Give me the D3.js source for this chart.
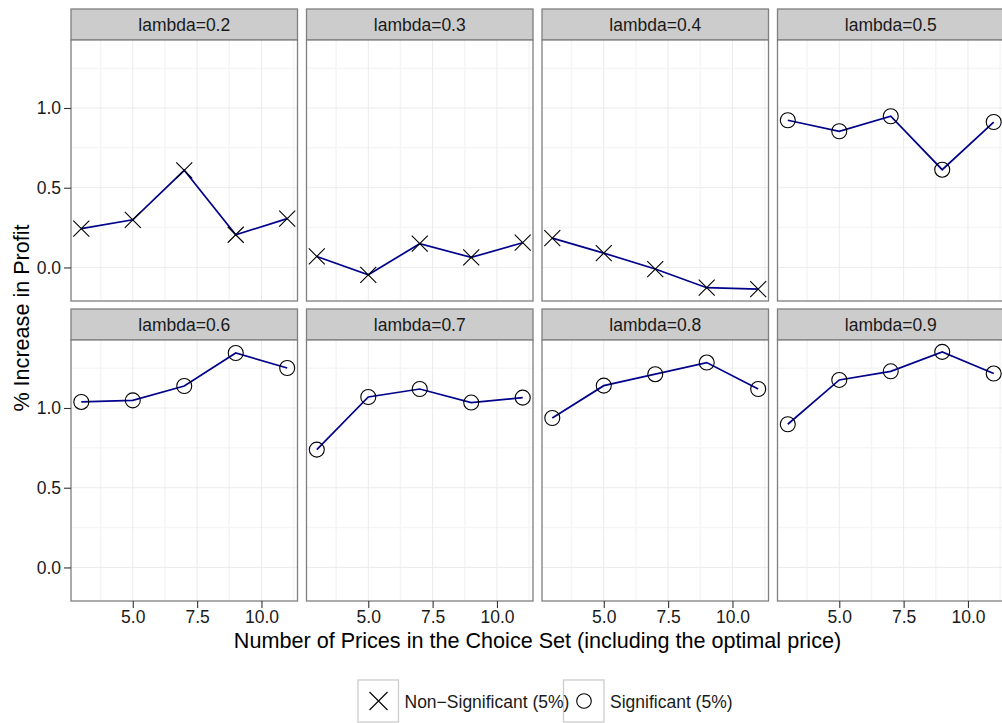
<!DOCTYPE html>
<html>
<head>
<meta charset="utf-8">
<script src="https://cdn.jsdelivr.net/npm/d3@7"></script>
<style>
  body { margin: 0; background: #fff; }
  svg { display: block; font-family: "Liberation Sans", Arial, sans-serif; }
</style>
</head>
<body>
<div id="app"></div>
<script>
// facet labels and x values
const lambdas = ["0.2", "0.3", "0.4", "0.5", "0.6", "0.7", "0.8", "0.9"];
const prices = [3, 5, 7, 9, 11];

// % increase in profit, one array per lambda
const profit_02 = [0.243, 0.299, 0.609, 0.205, 0.306];
const profit_03 = [0.069, -0.046, 0.149, 0.063, 0.155];
const profit_04 = [0.184, 0.090, -0.010, -0.127, -0.136];
const profit_05 = [0.923, 0.854, 0.948, 0.613, 0.912];
const profit_06 = [1.038, 1.048, 1.138, 1.345, 1.251];
const profit_07 = [0.739, 1.069, 1.119, 1.034, 1.065];
const profit_08 = [0.937, 1.140, 1.212, 1.285, 1.119];
const profit_09 = [0.898, 1.176, 1.230, 1.352, 1.216];
const profits = [profit_02, profit_03, profit_04, profit_05, profit_06, profit_07, profit_08, profit_09];

// significance at 5% per facet
const significant = [false, false, false, true, true, true, true, true];
const legendLabels = ["Non\u2212Significant (5%)", "Significant (5%)"];

const xTicks = [5, 7.5, 10];
const xMinor = [3.75, 6.25, 8.75, 11.25];
const yTicks = [0, 0.5, 1];
const yMinor = [-0.25, 0.25, 0.75, 1.25];

const width = 1002, height = 723;
const left = 71, panelW = 226.5, gap = 9;
const stripH = 31, panelH = 261;
const rowTops = [9, 309];
const ncol = 4;

const svg = d3.select("#app").append("svg")
  .attr("width", width)
  .attr("height", height);

// ggplot-like 5% expansion
const expand = (ext) => {
  const d = (ext[1] - ext[0]) * 0.05;
  return [ext[0] - d, ext[1] + d];
};

const x = d3.scaleLinear()
  .domain(expand(d3.extent(prices)))
  .range([0, panelW]);
const y = d3.scaleLinear()
  .domain(expand(d3.extent(profits.flat())))
  .range([panelH, 0]);

const line = d3.line()
  .x((d, i) => x(prices[i]))
  .y(d => y(d));

const crossPath = (r) => `M${-r},${-r}L${r},${r}M${-r},${r}L${r},${-r}`;

lambdas.forEach((lam, k) => {
  const col = k % ncol, row = Math.floor(k / ncol);
  const px = left + col * (panelW + gap);
  const top = rowTops[row];

  // strip
  const strip = svg.append("g").attr("transform", `translate(${px},${top})`);
  strip.append("rect")
    .attr("width", panelW).attr("height", stripH)
    .attr("fill", "#cccccc").attr("stroke", "#7f7f7f").attr("stroke-width", 1.3);
  strip.append("text")
    .attr("x", panelW / 2).attr("y", 22)
    .attr("text-anchor", "middle")
    .style("font-size", "17.5px").attr("fill", "#1a1a1a")
    .text("lambda=" + lam);

  const g = svg.append("g").attr("transform", `translate(${px},${top + stripH})`);
  g.append("rect").attr("width", panelW).attr("height", panelH).attr("fill", "#fff");

  // minor grid
  g.selectAll(".xminor").data(xMinor.filter(v => x(v) < panelW)).join("line")
    .attr("x1", d => x(d)).attr("x2", d => x(d)).attr("y1", 0).attr("y2", panelH)
    .attr("stroke", "#f5f5f5").attr("stroke-width", 1.5);
  g.selectAll(".yminor").data(yMinor.filter(v => y(v) > 0 && y(v) < panelH)).join("line")
    .attr("y1", d => y(d)).attr("y2", d => y(d)).attr("x1", 0).attr("x2", panelW)
    .attr("stroke", "#f5f5f5").attr("stroke-width", 1.5);
  // major grid
  g.selectAll(".xmajor").data(xTicks).join("line")
    .attr("x1", d => x(d)).attr("x2", d => x(d)).attr("y1", 0).attr("y2", panelH)
    .attr("stroke", "#ebebeb").attr("stroke-width", 1);
  g.selectAll(".ymajor").data(yTicks).join("line")
    .attr("y1", d => y(d)).attr("y2", d => y(d)).attr("x1", 0).attr("x2", panelW)
    .attr("stroke", "#ebebeb").attr("stroke-width", 1);

  // data line
  g.append("path")
    .datum(profits[k])
    .attr("d", line)
    .attr("fill", "none")
    .attr("stroke", "#00008b")
    .attr("stroke-width", 1.7);

  // points
  const pts = g.selectAll(".pt").data(profits[k]).join("g")
    .attr("transform", (d, i) => `translate(${x(prices[i])},${y(d)})`);
  if (significant[k]) {
    pts.append("circle").attr("r", 7.5)
      .attr("fill", "none").attr("stroke", "#000").attr("stroke-width", 1.1);
  } else {
    pts.append("path").attr("d", crossPath(8))
      .attr("fill", "none").attr("stroke", "#000").attr("stroke-width", 1.1);
  }

  // panel border
  g.append("rect").attr("width", panelW).attr("height", panelH)
    .attr("fill", "none").attr("stroke", "#7f7f7f").attr("stroke-width", 1.3);

  // axes
  if (col === 0) {
    const ax = g.append("g")
      .call(d3.axisLeft(y).tickValues(yTicks).tickFormat(d3.format(".1f")).tickSize(7).tickPadding(3));
    ax.select(".domain").remove();
    ax.selectAll("line").attr("stroke", "#333").attr("stroke-width", 1.1);
    ax.selectAll("text").style("font-size", "17.5px").attr("fill", "#1a1a1a")
      .attr("font-family", null);
  }
  if (row === 1) {
    const ax = g.append("g").attr("transform", `translate(0,${panelH})`)
      .call(d3.axisBottom(x).tickValues(xTicks).tickFormat(d3.format(".1f")).tickSize(7).tickPadding(3));
    ax.select(".domain").remove();
    ax.selectAll("line").attr("stroke", "#333").attr("stroke-width", 1.1);
    ax.selectAll("text").style("font-size", "17.5px").attr("fill", "#1a1a1a")
      .attr("font-family", null);
  }
});

// axis titles
svg.append("text")
  .attr("x", left + (ncol * panelW + (ncol - 1) * gap) / 2)
  .attr("y", 648)
  .attr("text-anchor", "middle")
  .style("font-size", "21.6px")
  .text("Number of Prices in the Choice Set (including the optimal price)");

svg.append("text")
  .attr("transform", `translate(29,318) rotate(-90)`)
  .attr("text-anchor", "middle")
  .style("font-size", "21.6px")
  .text("% Increase in Profit");

// legend: keys first, labels on top (the first label runs into the second key)
const legendX = [358, 563.5];
const keys = svg.append("g");
const labels = svg.append("g");
legendLabels.forEach((lab, i) => {
  const lg = keys.append("g").attr("transform", `translate(${legendX[i]},680)`);
  lg.append("rect").attr("width", 40.5).attr("height", 42)
    .attr("fill", "#fff").attr("stroke", "#cccccc").attr("stroke-width", 1.3);
  const m = lg.append("g").attr("transform", "translate(20.5,21)");
  if (i === 0) {
    m.append("path").attr("d", crossPath(9)).attr("fill", "none")
      .attr("stroke", "#000").attr("stroke-width", 1.1);
  } else {
    m.append("circle").attr("r", 7.3).attr("fill", "none")
      .attr("stroke", "#000").attr("stroke-width", 1.1);
  }
  labels.append("text").attr("x", legendX[i] + 46.5).attr("y", 708)
    .style("font-size", "17.5px").attr("fill", "#1a1a1a")
    .text(lab);
});
</script>
</body>
</html>
